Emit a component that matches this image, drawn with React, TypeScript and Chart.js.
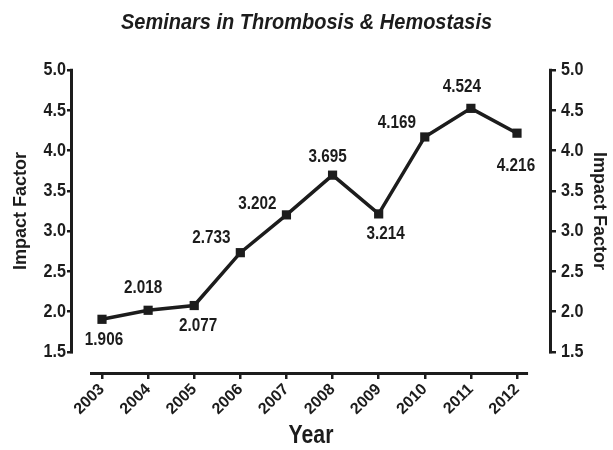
import React, { useEffect, useRef } from "react";
import { Chart, registerables } from "chart.js";

Chart.register(...registerables);

const titleText = "Seminars in Thrombosis & Hemostasis";
const years = [2003, 2004, 2005, 2006, 2007, 2008, 2009, 2010, 2011, 2012];
const impactFactor = [1.906, 2.018, 2.077, 2.733, 3.202, 3.695, 3.214, 4.169, 4.524, 4.216];
const yTicks = [1.5, 2.0, 2.5, 3.0, 3.5, 4.0, 4.5, 5.0];
const yAxisTitle = "Impact Factor";
const xAxisTitle = "Year";

// label placement (pixel offsets from each point) – styling only
const labelOffsets: [number, number][] = [
  [2, 21], [-5, -22], [4, 21], [-29, -15], [-29, -11],
  [-5, -18], [7, 20], [-28, -14], [-9, -21], [-1, 33],
];

const INK = "#1c1c1c";
const FAMILY = "'Liberation Sans', Arial, Helvetica, sans-serif";
const SQUEEZE = 0.85; // horizontal compression for upright text (condensed look)
const TITLE_SQUEEZE = 0.93;

function squeezeText(ctx: any) {
  if (ctx.__origFill) return;
  const orig = ctx.fillText.bind(ctx);
  ctx.__origFill = orig;
  ctx.fillText = (text: string, x: number, y: number, maxWidth?: number) => {
    const t = ctx.getTransform();
    const rotated = Math.abs(t.b) > 1e-6 || Math.abs(t.c) > 1e-6;
    const italic = String(ctx.font).includes("italic");
    const f = rotated ? 1 : italic ? TITLE_SQUEEZE : SQUEEZE;
    if (f === 1) {
      if (maxWidth === undefined) orig(text, x, y);
      else orig(text, x, y, maxWidth);
      return;
    }
    const w = ctx.measureText(text).width * f;
    orig(text, x, y, maxWidth === undefined ? w : Math.min(maxWidth, w));
  };
}

export default function App() {
  const ref = useRef<HTMLCanvasElement | null>(null);

  useEffect(() => {
    if (!ref.current) return;
    const ctx2d = ref.current.getContext("2d");
    squeezeText(ctx2d);

    const axesPlugin = {
      id: "prismAxes",
      afterLayout(chart: any) {
        // centre the vertical axis titles on the visible axis span
        ["y", "y2"].forEach((id) => {
          const s = chart.scales[id];
          s.bottom = s.getPixelForValue(yTicks[0]);
        });
      },
      afterDraw(chart: any) {
        const ctx = chart.ctx;
        const y = chart.scales.y;
        const y2 = chart.scales.y2;
        const x = chart.scales.x;
        ctx.save();
        ctx.strokeStyle = INK;
        ctx.lineWidth = 3;
        ctx.lineCap = "butt";
        const yTop = y.getPixelForValue(yTicks[yTicks.length - 1]);
        const yBot = y.getPixelForValue(yTicks[0]);
        ctx.beginPath();
        ctx.moveTo(y.right - 1.5, yTop - 1.25);
        ctx.lineTo(y.right - 1.5, yBot + 1.25);
        ctx.moveTo(y2.left + 1.5, yTop - 1.25);
        ctx.lineTo(y2.left + 1.5, yBot + 1.25);
        ctx.moveTo(x.getPixelForValue(years[0] - 0.26), x.top + 1.5);
        ctx.lineTo(x.getPixelForValue(years[years.length - 1] + 0.24), x.top + 1.5);
        ctx.stroke();

        // data labels
        const meta = chart.getDatasetMeta(0);
        ctx.fillStyle = INK;
        ctx.font = `bold 18px ${FAMILY}`;
        ctx.textAlign = "center";
        ctx.textBaseline = "middle";
        meta.data.forEach((pt: any, i: number) => {
          const [dx, dy] = labelOffsets[i];
          ctx.fillText(impactFactor[i].toFixed(3), pt.x + dx, pt.y + dy);
        });
        ctx.restore();
      },
    };

    const chart = new Chart(ref.current, {
      type: "line",
      data: {
        datasets: [
          {
            data: years.map((yr, i) => ({ x: yr, y: impactFactor[i] })),
            borderColor: INK,
            borderWidth: 3.5,
            pointStyle: "rect",
            pointRadius: 6.5,
            pointBackgroundColor: INK,
            pointBorderColor: INK,
            pointBorderWidth: 0,
            yAxisID: "y",
            xAxisID: "x",
            tension: 0,
          },
        ],
      },
      options: {
        animation: false,
        responsive: false,
        layout: { padding: 0 },
        plugins: {
          legend: { display: false },
          tooltip: { enabled: false },
          title: {
            display: true,
            text: titleText,
            color: INK,
            font: { family: FAMILY, size: 21.5, weight: "bold", style: "italic", lineHeight: 1.2 },
            padding: { top: 10, bottom: 34.2 },
          },
        },
        scales: {
          x: {
            type: "linear",
            min: years[0] - 0.629,
            max: years[years.length - 1] + 0.694,
            afterBuildTicks: (s: any) => {
              s.ticks = years.map((v) => ({ value: v }));
            },
            afterFit: (s: any) => {
              s.height = 78;
            },
            ticks: {
              autoSkip: false,
              maxRotation: 45,
              minRotation: 45,
              padding: 1,
              color: INK,
              font: { family: FAMILY, size: 16, weight: "bold" },
              callback: (v: any) => String(v),
            },
            grid: { drawOnChartArea: false, drawTicks: true, tickLength: 7, lineWidth: 2.5, color: INK },
            border: { display: false },
            title: {
              display: true,
              text: xAxisTitle,
              color: INK,
              font: { family: FAMILY, size: 25, weight: "bold", lineHeight: 1.2 },
              padding: { top: 0, bottom: -1 },
            },
          },
          y: {
            type: "linear",
            position: "left",
            min: 1.252,
            max: 5.0,
            afterBuildTicks: (s: any) => {
              s.ticks = yTicks.map((v) => ({ value: v }));
            },
            afterFit: (s: any) => {
              s.width = 73;
            },
            ticks: {
              padding: 1,
              color: INK,
              font: { family: FAMILY, size: 19, weight: "bold" },
              callback: (v: any) => Number(v).toFixed(1),
            },
            grid: { drawOnChartArea: false, drawTicks: true, tickLength: 6, lineWidth: 2.5, color: INK },
            border: { display: false },
            title: {
              display: true,
              text: yAxisTitle,
              color: INK,
              font: { family: FAMILY, size: 18, weight: "bold", lineHeight: 1.2 },
              padding: { top: 10, bottom: 0 },
            },
          },
          y2: {
            type: "linear",
            position: "right",
            display: true,
            min: 1.252,
            max: 5.0,
            afterBuildTicks: (s: any) => {
              s.ticks = yTicks.map((v) => ({ value: v }));
            },
            afterFit: (s: any) => {
              s.width = 64;
            },
            ticks: {
              padding: 5,
              color: INK,
              font: { family: FAMILY, size: 19, weight: "bold" },
              callback: (v: any) => Number(v).toFixed(1),
            },
            grid: { drawOnChartArea: false, drawTicks: true, tickLength: 7, lineWidth: 2.5, color: INK },
            border: { display: false },
            title: {
              display: true,
              text: yAxisTitle,
              color: INK,
              font: { family: FAMILY, size: 18, weight: "bold", lineHeight: 1.2 },
              padding: { top: 3, bottom: 0 },
            },
          },
        },
      },
      plugins: [axesPlugin],
    } as any);

    return () => chart.destroy();
  }, []);

  return (
    <div style={{ position: "absolute", left: 0, top: 0, width: 613, height: 450, background: "#fff" }}>
      <canvas ref={ref} width={613} height={450} style={{ width: 613, height: 450 }} />
    </div>
  );
}
